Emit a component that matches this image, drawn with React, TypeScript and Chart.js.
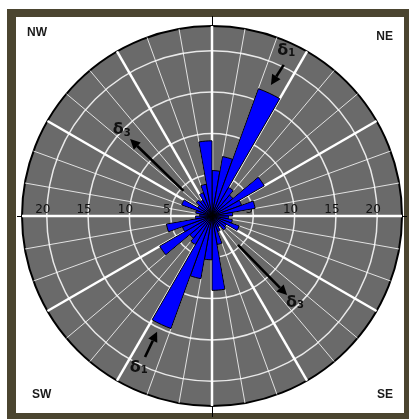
import React, { useEffect, useRef } from "react";
import { Chart, registerables } from "chart.js";

Chart.register(...registerables);

// Bin start angles (degrees clockwise from north), 10° bins
const binLabels: string[] = [
  "0", "10", "20", "30", "40", "50", "60", "70", "80",
  "90", "100", "110", "120", "130", "140", "150", "160", "170",
  "180", "190", "200", "210", "220", "230", "240", "250", "260",
  "270", "280", "290", "300", "310", "320", "330", "340", "350",
];

// Frequency per bin
const binValues: number[] = [
  5.5, 7.3, 16.4, 4.0, 3.3, 7.3, 3.8, 5.3, 2.5,
  2.0, 2.5, 3.5, 2.0, 2.2, 1.5, 2.0, 3.5, 9.0,
  5.3, 7.7, 14.5, 4.0, 3.5, 7.3, 3.8, 5.6, 2.0,
  1.5, 2.0, 3.9, 2.0, 2.5, 2.2, 3.0, 3.9, 9.1,
];

const tickValues: number[] = [5, 10, 15, 20];
const scaleMax = 23;

const cornerLabels: string[] = ["NW", "NE", "SW", "SE"];

// Stress arrows: [angle from, value from, angle to, value to]
const arrowNames: string[] = ["1", "1", "3", "3"];
const arrowFromAngle: number[] = [25.4, 205.4, 311.4, 138.1];
const arrowFromValue: number[] = [20.25, 18.9, 4.6, 4.7];
const arrowToAngle: number[] = [24.2, 205.4, 313.2, 136.5];
const arrowToValue: number[] = [17.4, 15.5, 13.6, 13.2];
const arrowTextAngle: number[] = [24.5, 205.5, 313.9, 135.9];
const arrowTextValue: number[] = [22.0, 20.3, 15.0, 14.6];

function polarPoint(scale: any, angleDeg: number, value: number) {
  const r = scale.getDistanceFromCenterForValue(value);
  const a = (angleDeg * Math.PI) / 180;
  return { x: scale.xCenter + r * Math.sin(a), y: scale.yCenter - r * Math.cos(a) };
}

const decorPlugin = {
  id: "decor",
  beforeDraw(chart: any) {
    const ctx = chart.ctx;
    const s = chart.scales.r;
    const cx = s.xCenter;
    const cy = s.yCenter;
    const R = s.drawingArea;
    ctx.save();
    ctx.fillStyle = "#4b4530";
    ctx.fillRect(7, 9, chart.width - 7, chart.height - 9);
    ctx.fillStyle = "#ffffff";
    ctx.fillRect(16, 17, chart.width - 5 - 16, chart.height - 6 - 17);
    ctx.strokeStyle = "#000";
    ctx.lineWidth = 1;
    ctx.beginPath();
    ctx.moveTo(cx + 0.5, 16);
    ctx.lineTo(cx + 0.5, cy - R);
    ctx.moveTo(cx + 0.5, cy + R);
    ctx.lineTo(cx + 0.5, chart.height - 2);
    ctx.moveTo(17, cy + 0.5);
    ctx.lineTo(cx - R, cy + 0.5);
    ctx.moveTo(cx + R, cy + 0.5);
    ctx.lineTo(chart.width - 2, cy + 0.5);
    ctx.stroke();

    ctx.fillStyle = "#1a1a1a";
    ctx.font = "bold 12px 'Liberation Sans', Arial, sans-serif";
    ctx.textBaseline = "middle";
    ctx.textAlign = "left";
    ctx.fillText(cornerLabels[0], 27, 33);
    ctx.fillText(cornerLabels[2], 32, 395);
    ctx.textAlign = "right";
    ctx.fillText(cornerLabels[1], 393, 37);
    ctx.fillText(cornerLabels[3], 393, 395);
    ctx.restore();
  },
  beforeDatasetsDraw(chart: any) {
    const ctx = chart.ctx;
    const s = chart.scales.r;
    const cx = s.xCenter;
    const cy = s.yCenter;
    ctx.save();
    ctx.fillStyle = "#111";
    ctx.font = "12px 'DejaVu Sans', sans-serif";
    ctx.textAlign = "center";
    ctx.textBaseline = "alphabetic";
    tickValues.forEach((v) => {
      const d = s.getDistanceFromCenterForValue(v);
      ctx.fillText(String(v), cx - d - 4, cy - 3);
      ctx.fillText(String(v), cx + d - 4, cy - 3);
    });
    ctx.restore();
  },
  afterDraw(chart: any) {
    const ctx = chart.ctx;
    const s = chart.scales.r;
    ctx.save();
    ctx.strokeStyle = "#000";
    ctx.fillStyle = "#000";
    ctx.lineWidth = 2.6;
    for (let i = 0; i < arrowNames.length; i++) {
      const p0 = polarPoint(s, arrowFromAngle[i], arrowFromValue[i]);
      const p1 = polarPoint(s, arrowToAngle[i], arrowToValue[i]);
      const ang = Math.atan2(p1.y - p0.y, p1.x - p0.x);
      const hl = 10;
      const hw = 5;
      const bx = p1.x - hl * Math.cos(ang);
      const by = p1.y - hl * Math.sin(ang);
      ctx.beginPath();
      ctx.moveTo(p0.x, p0.y);
      ctx.lineTo(bx, by);
      ctx.stroke();
      ctx.beginPath();
      ctx.moveTo(p1.x, p1.y);
      ctx.lineTo(bx + hw * Math.sin(ang), by - hw * Math.cos(ang));
      ctx.lineTo(bx - hw * Math.sin(ang), by + hw * Math.cos(ang));
      ctx.closePath();
      ctx.fill();

      const t = polarPoint(s, arrowTextAngle[i], arrowTextValue[i]);
      ctx.fillStyle = "#111";
      ctx.textBaseline = "middle";
      ctx.textAlign = "right";
      ctx.font = "bold 16px 'DejaVu Sans', sans-serif";
      ctx.fillText("\u03b4", t.x + 1, t.y);
      ctx.textAlign = "left";
      ctx.font = "bold 10px 'DejaVu Sans', sans-serif";
      ctx.fillText(arrowNames[i], t.x + 1, t.y + 3);
      ctx.fillStyle = "#000";
    }
    ctx.restore();
  },
};

export default function App() {
  const ref = useRef<HTMLCanvasElement | null>(null);
  useEffect(() => {
    if (!ref.current) return;
    const chart = new Chart(ref.current, {
      type: "polarArea",
      data: {
        labels: binLabels,
        datasets: [
          {
            data: binValues,
            backgroundColor: "#0000ff",
            borderColor: "#000000",
            borderWidth: 1,
          },
        ],
      },
      options: {
        responsive: false,
        animation: false,
        layout: { padding: { left: 22, right: 7, top: 26, bottom: 13 } },
        plugins: {
          legend: { display: false },
          tooltip: { enabled: false },
        },
        scales: {
          r: {
            min: 0,
            max: scaleMax,
            backgroundColor: "#6a6a6a",
            ticks: { display: false, stepSize: 5 },
            pointLabels: { display: false },
            grid: {
              circular: true,
              color: (c: any) => (c.tick && c.tick.value >= scaleMax ? "#000000" : "rgba(255,255,255,0.85)"),
              lineWidth: (c: any) => (c.tick && c.tick.value >= scaleMax ? 2 : 1.5),
            },
            angleLines: {
              display: true,
              color: (c: any) => (c.index % 3 === 0 ? "#ffffff" : "rgba(255,255,255,0.8)"),
              lineWidth: (c: any) => (c.index % 3 === 0 ? 2.5 : 1),
            },
          },
        },
      },
      plugins: [decorPlugin],
    } as any);
    return () => chart.destroy();
  }, []);
  return (
    <div style={{ position: "absolute", left: 0, top: 0, width: 409, height: 419 }}>
      <canvas ref={ref} width={409} height={419} />
    </div>
  );
}
